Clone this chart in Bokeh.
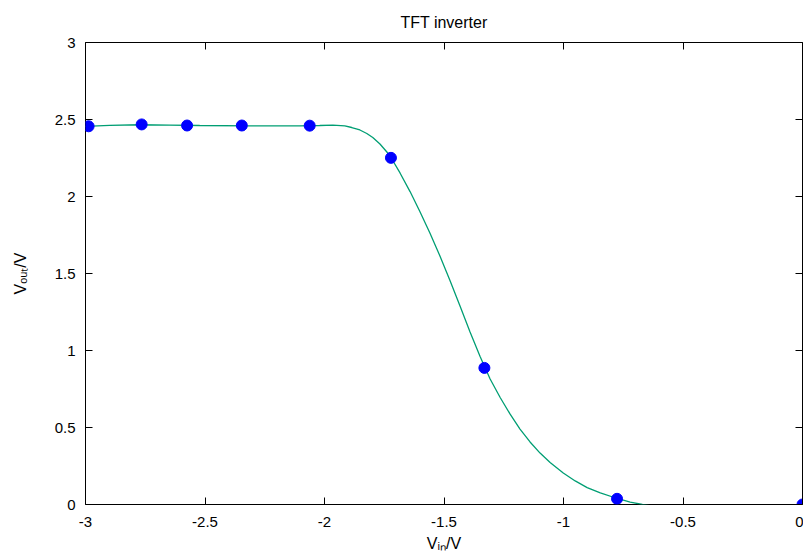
from bokeh.plotting import figure
from bokeh.models import Range1d, LinearAxis, FixedTicker, ColumnDataSource, CustomJSTickFormatter
from bokeh.embed import file_html
from bokeh.resources import INLINE

# ---- data ----
vin_meas = [-2.987, -2.765, -2.575, -2.346, -2.062, -1.722, -1.331, -0.776, 0.0]
vout_meas = [2.456, 2.468, 2.461, 2.461, 2.460, 2.251, 0.887, 0.037, 0.0]

fit_vin = [-3.000, -2.899, -2.774, -2.648, -2.522, -2.313, -2.103, -2.020, -1.965, -1.915,
           -1.886, -1.852, -1.823, -1.798, -1.768, -1.739, -1.722, -1.684, -1.642, -1.601,
           -1.559, -1.517, -1.475, -1.433, -1.391, -1.349, -1.307, -1.265, -1.224, -1.182,
           -1.140, -1.098, -1.056, -1.001, -0.951, -0.901, -0.846, -0.775, -0.721, -0.670,
           -0.595]
fit_vout = [2.455, 2.462, 2.466, 2.464, 2.461, 2.458, 2.458, 2.461, 2.464, 2.458,
            2.448, 2.432, 2.409, 2.383, 2.341, 2.289, 2.253, 2.153, 2.032, 1.903,
            1.763, 1.614, 1.455, 1.289, 1.120, 0.961, 0.815, 0.695, 0.588, 0.490,
            0.406, 0.334, 0.273, 0.205, 0.153, 0.110, 0.075, 0.039, 0.016, 0.000,
            -0.019]

x_ticks = [-3, -2.5, -2, -1.5, -1, -0.5, 0]
x_tick_labels = ["-3", "-2.5", "-2", "-1.5", "-1", "-0.5", "0"]
y_ticks = [0, 0.5, 1, 1.5, 2, 2.5, 3]
y_tick_labels = ["0", "0.5", "1", "1.5", "2", "2.5", "3"]

title_text = "TFT inverter"
x_label = "V\u1d62\u2099/V"
y_label = "V\u2092\u1d64\u209c/V"

FONT = "Liberation Sans"
TICK_FS = "15px"
LAB_FS = "16px"

p = figure(width=803, height=554, x_range=Range1d(-3, 0), y_range=Range1d(0, 3),
           output_backend="svg", toolbar_location=None,
           min_border_left=85, min_border_right=1, min_border_top=42, min_border_bottom=50)
p.xgrid.visible = False
p.ygrid.visible = False
p.outline_line_color = "black"
p.outline_line_width = 1
p.outline_line_alpha = 1
p.background_fill_color = "white"
p.border_fill_color = "white"

p.title.text = title_text
p.title.align = "center"
p.title.text_font = FONT
p.title.text_font_size = LAB_FS
p.title.text_font_style = "normal"
p.title.text_color = "black"
p.title.standoff = 23

def style_axis(ax, ticks, labels):
    ax.ticker = FixedTicker(ticks=ticks)
    ax.major_label_overrides = {t: l for t, l in zip(ticks, labels)}
    ax.axis_line_color = None
    ax.major_tick_in = 7
    ax.major_tick_out = 0
    ax.major_tick_line_color = "black"
    ax.minor_tick_line_color = None
    ax.major_label_text_font = FONT
    ax.major_label_text_font_size = TICK_FS
    ax.major_label_text_color = "black"
    ax.axis_label_text_font = FONT
    ax.axis_label_text_font_size = LAB_FS
    ax.axis_label_text_font_style = "normal"
    ax.axis_label_text_color = "black"

style_axis(p.xaxis[0], x_ticks, x_tick_labels)
p.xaxis[0].major_label_standoff = 12
p.xaxis[0].axis_label = x_label
p.xaxis[0].axis_label_standoff = 5
style_axis(p.yaxis[0], y_ticks, y_tick_labels)
p.yaxis[0].major_label_standoff = 10
p.yaxis[0].axis_label = y_label
p.yaxis[0].axis_label_standoff = 23

blank = CustomJSTickFormatter(code="return ''")
for loc, ticks in (("above", x_ticks), ("right", y_ticks)):
    ax = LinearAxis(ticker=FixedTicker(ticks=ticks), formatter=blank,
                    axis_line_color=None, major_tick_in=7, major_tick_out=0,
                    major_tick_line_color="black", minor_tick_line_color=None,
                    major_label_text_font_size="0px", major_label_standoff=0)
    p.add_layout(ax, loc)

fit_src = ColumnDataSource(dict(x=fit_vin, y=fit_vout))
p.line("x", "y", source=fit_src, line_color="#009e73", line_width=1.3)
meas_src = ColumnDataSource(dict(x=vin_meas, y=vout_meas))
p.scatter("x", "y", source=meas_src, size=11, fill_color="#0000ff", line_color="#0000ff")

open("out.html", "w").write(file_html(p, INLINE))
